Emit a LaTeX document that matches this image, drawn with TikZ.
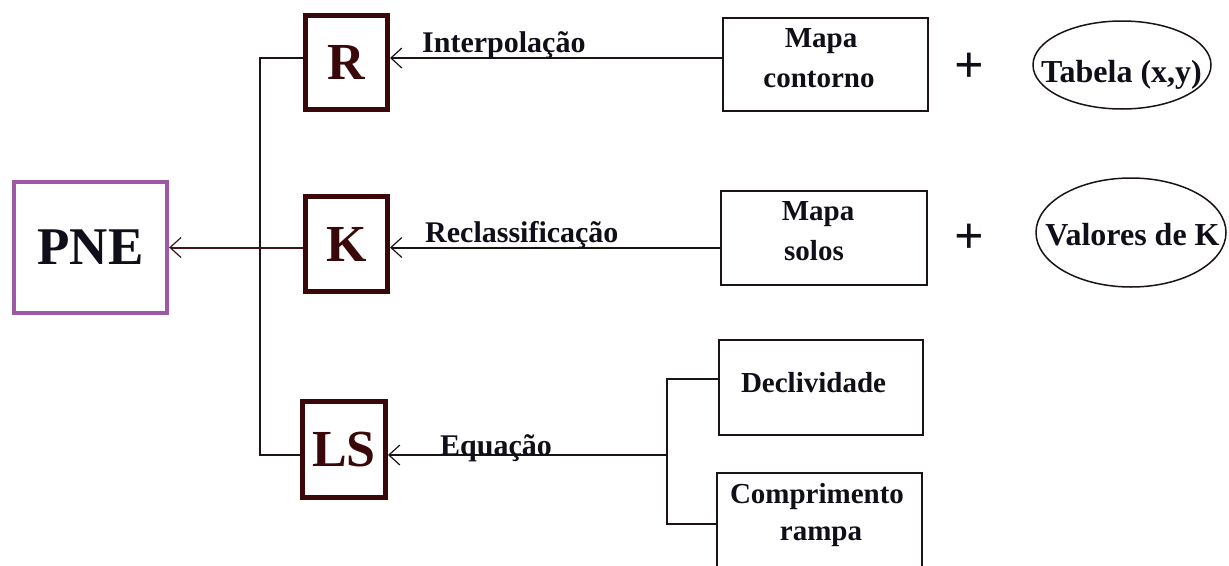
\documentclass[tikz,border=0pt]{standalone}
\usepackage{fontspec}
\setmainfont{Liberation Serif}
\usetikzlibrary{arrows.meta,shapes.geometric}
\definecolor{pnepurple}{RGB}{158,88,166}
\definecolor{boxbrown}{RGB}{58,8,8}
\definecolor{txtbrown}{RGB}{58,8,8}
\definecolor{txtdark}{RGB}{16,14,24}
\definecolor{linedark}{RGB}{28,20,20}
\definecolor{linebrown}{RGB}{64,22,22}
\tikzset{
  bigbox/.style={draw=boxbrown, line width=5pt, inner sep=0pt, text=txtbrown,
    font=\bfseries\fontsize{52}{52}\selectfont},
  pnebox/.style={draw=pnepurple, line width=4.3pt, inner sep=0pt, text=txtdark,
    minimum width=153pt, minimum height=131pt, font=\bfseries\fontsize{53}{53}\selectfont},
  srcbox/.style={draw=linedark, line width=2pt, inner sep=0pt},
  ellbox/.style={draw=linedark, line width=1.5pt, ellipse, inner sep=0pt},
  boxtxt/.style={anchor=base, inner sep=0pt, text=txtdark, font=\bfseries\fontsize{29}{29}\selectfont},
  lbltxt/.style={anchor=base west, inner sep=0pt, text=txtdark, font=\bfseries\fontsize{30}{30}\selectfont},
  elltxt/.style={anchor=base, inner sep=0pt, text=txtdark, font=\bfseries\fontsize{32}{32}\selectfont},
  plustxt/.style={inner sep=0pt, text=txtdark, font=\bfseries\fontsize{52}{52}\selectfont},
  conn/.style={draw=linedark, line width=2pt},
  barbtip/.style={-{Straight Barb[length=11pt,width=20pt,line width=1.2pt]}}
}
\begin{document}
\begin{tikzpicture}[x=1pt,y=-1pt]
\clip (0,0) rectangle (1229,565);
\fill[white] (0,0) rectangle (1229,565);

% main boxes
\node[pnebox] (PNE) at (90.5,247.5) {PNE};
\node[bigbox, minimum width=82pt, minimum height=94pt] (R) at (346.5,62.5) {R};
\node[bigbox, minimum width=82pt, minimum height=95pt] (K) at (346.5,244) {K};
\node[bigbox, minimum width=83pt, minimum height=96pt] (LS) at (344,449.5) {LS};

% source boxes
\node[srcbox, minimum width=205pt, minimum height=93pt] (MC) at (825.5,64.5) {};
\node[boxtxt] (MCa) at (821,47) {Mapa};
\node[boxtxt] (MCb) at (819,87) {contorno};

\node[srcbox, minimum width=206pt, minimum height=94pt] (MS) at (824,238) {};
\node[boxtxt] (MSa) at (818,220) {Mapa};
\node[boxtxt] (MSb) at (814,260) {solos};

\node[srcbox, minimum width=204pt, minimum height=95pt] (D) at (821,387.5) {};
\node[boxtxt] (Dt) at (813.5,392) {Declividade};

\node[srcbox, minimum width=205pt, minimum height=110pt] (C) at (819.5,528) {};
\node[boxtxt] (Ca) at (817,503) {Comprimento};
\node[boxtxt] (Cb) at (821,540) {rampa};

% plus signs
\node[plustxt] (P1) at (969,67.5) {+};
\node[plustxt] (P2) at (969,238.5) {+};

% ellipses
\node[ellbox, minimum width=178pt, minimum height=88pt] (T) at (1122,65) {};
\node[elltxt] (Tt) at (1121.5,82) {Tabela (x,y)};
\node[ellbox, minimum width=190pt, minimum height=109pt] (V) at (1131,232.5) {};
\node[elltxt] (Vt) at (1132.5,245) {Valores de K};

% connector levels
\coordinate (yR) at (0,58);
\coordinate (yK) at (0,247.5);
\coordinate (yLS) at (0,455);
\coordinate (bxTop) at (260,58);
\coordinate (jn) at (667,455);
\coordinate (jTop) at (667,379);
\coordinate (jBot) at (667,524);

% connectors
\draw[conn, barbtip] (MC.west |- yR) -- (R.east |- yR);
\draw[conn, barbtip] (MS.west |- yK) -- (K.east |- yK);
\draw[conn, barbtip] (jn) -- (LS.east |- yLS);
\draw[conn] (D.west |- jTop) -- (jTop) -- (jBot) -- (C.west |- jBot);
\draw[conn] (R.west |- yR) -- (bxTop) |- (LS.west |- yLS);
\draw[conn, draw=linebrown, barbtip] (K.west |- yK) -- (PNE.east |- yK);

% labels
\node[lbltxt] (Li) at (422,52) {Interpolação};
\node[lbltxt] (Lr) at (425,242) {Reclassificação};
\node[lbltxt] (Le) at (440,455) {Equação};
\end{tikzpicture}
\end{document}
